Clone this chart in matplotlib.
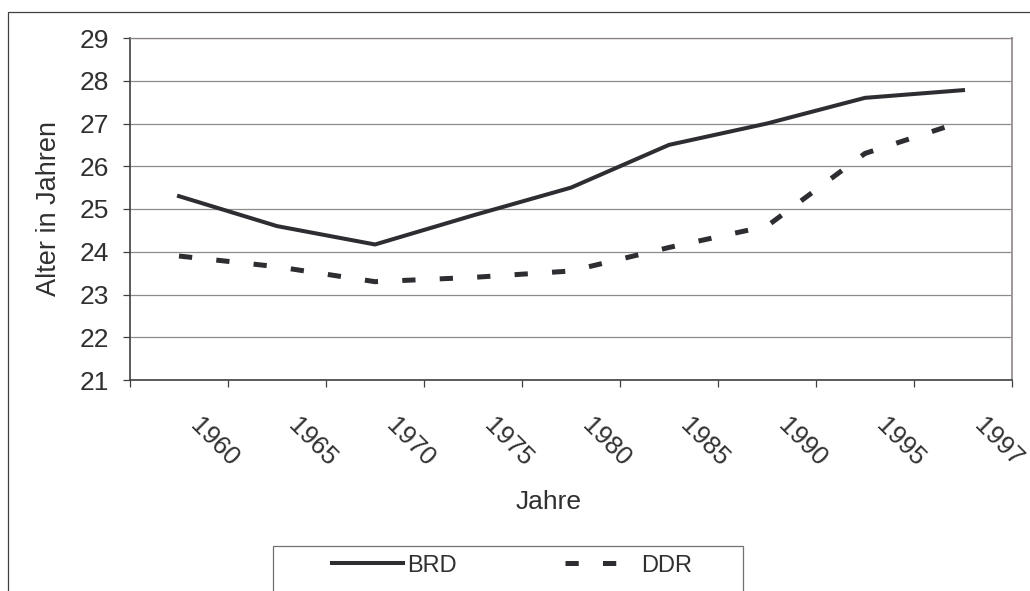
import matplotlib
matplotlib.use('Agg')
import matplotlib.pyplot as plt
from matplotlib.patches import Rectangle
from matplotlib.transforms import ScaledTranslation
import numpy as np

plt.rcParams['font.family'] = ['Liberation Sans', 'DejaVu Sans']

years = ['1960', '1965', '1970', '1975', '1980', '1985', '1990', '1995', '1997']
brd = [25.3, 24.6, 24.17, 24.85, 25.5, 26.5, 27.0, 27.6, 27.78]
ddr = [23.9, 23.65, 23.3, 23.4, 23.55, 24.1, 24.6, 26.3, 27.05]
yticks = list(range(21, 30))

W, H = 1030, 591
txt = '#303030'
line_col = '#2e2e32'

fig = plt.figure(figsize=(W / 100, H / 100), dpi=100)
ax = fig.add_axes([130 / W, 1 - 380 / H, 882 / W, 342 / H])

x = np.arange(len(years))
ax.plot(x, brd, color=line_col, lw=2.9, label='BRD')
ax.plot(x, ddr, color=line_col, lw=3.6, dashes=(2.65, 4.85), label='DDR')

ax.set_xlim(-0.5, len(years) - 0.5)
ax.set_ylim(21, 29)
ax.set_yticks(yticks)
ax.yaxis.grid(True, color='#8c8c8c', lw=0.9)
ax.set_axisbelow(True)

for s in ['left', 'bottom']:
    ax.spines[s].set_color('#404040')
    ax.spines[s].set_linewidth(1.2)
ax.spines['top'].set_color('#8c8484')
ax.spines['top'].set_linewidth(0.9)
ax.spines['right'].set_color('#a09898')
ax.spines['right'].set_linewidth(1.4)

ax.tick_params(axis='y', length=5, width=0.9, color='#404040', pad=10,
               labelsize=19, labelcolor=txt)

# category labels between tick marks (tick marks sit on category borders)
ax.set_xticks(x)
ax.set_xticklabels(years, rotation=-45, rotation_mode='anchor', ha='left', va='center')
ax.set_xticks(np.arange(len(years) + 1) - 0.5, minor=True)
ax.tick_params(axis='x', which='major', length=0, pad=30, labelsize=18.5, labelcolor=txt)
ax.tick_params(axis='x', which='minor', length=5, width=0.9, color='#404040')
off = ScaledTranslation(0.15, 0, fig.dpi_scale_trans)
for lab in ax.get_xticklabels():
    lab.set_transform(lab.get_transform() + off)

fig.text(549 / W, 1 - 502 / H, 'Jahre', ha='center', va='center', fontsize=19, color=txt)
fig.text(49 / W, 1 - 208 / H, 'Alter in Jahren', ha='center', va='center',
         rotation=90, fontsize=19.5, color=txt)

ax.legend(loc='center left', bbox_to_anchor=(331.7 / W, 1 - 565.5 / H),
          bbox_transform=fig.transFigure, ncol=2, frameon=False, fontsize=17,
          handlelength=3.0, handletextpad=0.2, columnspacing=4.6,
          borderpad=0, borderaxespad=0, labelcolor=txt)

# outer chart border and legend box, both cut off by the image edge
fig.add_artist(Rectangle((8 / W, -0.1), 1.2, 1.1 - 12 / H, transform=fig.transFigure,
                         fill=False, edgecolor='#404040', lw=0.9))
fig.add_artist(Rectangle((272.7 / W, -0.1), (743 - 272.7) / W, 1.1 - 545.7 / H,
                         transform=fig.transFigure, fill=False, edgecolor='#707070', lw=0.9))

fig.savefig('out.png', dpi=100)
